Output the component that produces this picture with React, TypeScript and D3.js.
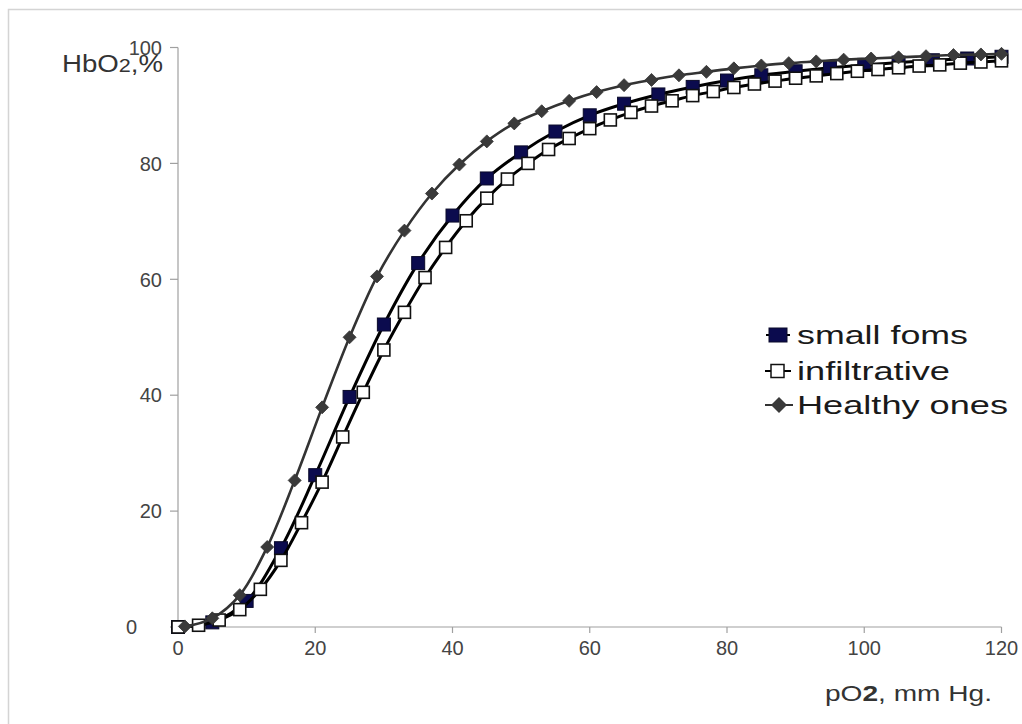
import React from "react";
import * as d3 from "d3";

// ---- data ----
const smallX = [0,5,10,15,20,25,30,35,40,45,50,55,60,65,70,75,80,85,90,95,100,105,110,115,120];
const smallY = [0,0.8,4.5,13.6,26.2,39.7,52.2,62.8,71.0,77.4,81.9,85.5,88.3,90.3,91.9,93.2,94.3,95.2,95.9,96.5,97.0,97.4,97.8,98.1,98.4];

const infX = [0,3,6,9,12,15,18,21,24,27,30,33,36,39,42,45,48,51,54,57,60,63,66,69,72,75,78,81,84,87,90,93,96,99,102,105,108,111,114,117,120];
const infY = [0,0.3,1.2,3.0,6.5,11.5,18.0,25.0,32.8,40.5,47.8,54.3,60.3,65.5,70.1,74.0,77.3,80.0,82.4,84.3,86.0,87.5,88.8,89.9,90.8,91.7,92.4,93.1,93.7,94.2,94.7,95.1,95.5,95.9,96.2,96.5,96.8,97.0,97.3,97.5,97.7];

const healthyX = [1,5,9,13,17,21,25,29,33,37,41,45,49,53,57,61,65,69,73,77,81,85,89,93,97,101,105,109,113,117,120];
const healthyY = [0.1,1.5,5.5,13.8,25.3,37.9,50.0,60.5,68.4,74.8,79.8,83.8,86.9,89.0,90.8,92.3,93.5,94.4,95.2,95.8,96.4,96.9,97.3,97.6,97.9,98.1,98.3,98.5,98.7,98.8,98.9];

const xTicks = [0, 20, 40, 60, 80, 100, 120];
const yTicks = [0, 20, 40, 60, 80, 100];
const legendLabels = ["small foms", "infiltrative", "Healthy ones"];

type Pt = { x: number; y: number };
const zip = (xs: number[], ys: number[]): Pt[] => xs.map((x, i) => ({ x, y: ys[i] }));

export default function App() {
  const W = 1022, H = 724;
  const x = d3.scaleLinear().domain([0, 120]).range([178, 1001.5]);
  const y = d3.scaleLinear().domain([0, 100]).range([627, 47.5]);
  const line = d3
    .line<Pt>()
    .x((d) => x(d.x))
    .y((d) => y(d.y))
    .curve(d3.curveCatmullRom.alpha(0.5));

  const small = zip(smallX, smallY);
  const inf = zip(infX, infY);
  const healthy = zip(healthyX, healthyY);

  const font = "'Liberation Sans', Arial, sans-serif";
  const sq = 13;
  const hs = 12;
  const dm = 6.5;
  const diamond = (cx: number, cy: number, r: number) =>
    `M${cx},${cy - r}L${cx + r},${cy}L${cx},${cy + r}L${cx - r},${cy}Z`;

  return (
    <svg
      width={W}
      height={H}
      style={{ position: "absolute", left: 0, top: 0, background: "#fff" }}
    >
      <rect x={8.5} y={9.5} width={1100} height={800} fill="#fff" stroke="#d4d4d4" strokeWidth={1.5} />

      {/* axes */}
      <line x1={x(0)} x2={x(0)} y1={y(100)} y2={y(0)} stroke="#a0a0a0" strokeWidth={1.2} />
      <line x1={x(0)} x2={x(120)} y1={y(0)} y2={y(0)} stroke="#a0a0a0" strokeWidth={1.2} />
      {yTicks.map((t) => (
        <g key={"y" + t}>
          <line x1={x(0) - 8} x2={x(0)} y1={y(t)} y2={y(t)} stroke="#a0a0a0" strokeWidth={1.2} />
          <text
            x={t === 0 ? 137 : 162}
            y={y(t)}
            dy="0.36em"
            textAnchor="end"
            fontFamily={font}
            fontSize={20}
            fill="#444"
          >
            {t}
          </text>
        </g>
      ))}
      {xTicks.map((t) => (
        <g key={"x" + t}>
          <line x1={x(t)} x2={x(t)} y1={y(0)} y2={y(0) + 6} stroke="#a0a0a0" strokeWidth={1.2} />
          <text
            x={x(t)}
            y={655}
            textAnchor="middle"
            fontFamily={font}
            fontSize={20}
            fill="#444"
          >
            {t}
          </text>
        </g>
      ))}

      {/* axis titles */}
      <text x={62} y={72} fontFamily={font} fontSize={23} fill="#333" textLength={101} lengthAdjust="spacingAndGlyphs">
        HbO<tspan fontSize={18}>2</tspan>,%
      </text>
      <text x={825} y={701} fontFamily={font} fontSize={22} fill="#333" textLength={167} lengthAdjust="spacingAndGlyphs">
        pO<tspan fontWeight="bold">2</tspan>, mm Hg.
      </text>

      {/* small forms */}
      <path d={line(small) || ""} fill="none" stroke="#000" strokeWidth={3} />
      {small.map((d, i) => (
        <rect
          key={"s" + i}
          x={x(d.x) - sq / 2}
          y={y(d.y) - sq / 2}
          width={sq}
          height={sq}
          fill="#0b0b4e"
          stroke="#0a0a2a"
          strokeWidth={1}
        />
      ))}

      {/* infiltrative */}
      <path d={line(inf) || ""} fill="none" stroke="#000" strokeWidth={3} />
      {inf.map((d, i) => (
        <rect
          key={"i" + i}
          x={x(d.x) - hs / 2}
          y={y(d.y) - hs / 2}
          width={hs}
          height={hs}
          fill="#fff"
          stroke="#111"
          strokeWidth={1.6}
        />
      ))}

      {/* healthy */}
      <path d={line(healthy) || ""} fill="none" stroke="#333" strokeWidth={2.6} />
      {healthy.map((d, i) => (
        <path key={"h" + i} d={diamond(x(d.x), y(d.y), dm)} fill="#3a3a3a" stroke="#333" strokeWidth={0.8} />
      ))}

      {/* legend */}
      <g fontFamily={font} fill="#1a1a1a">
        <line x1={766} x2={790} y1={335} y2={335} stroke="#000" strokeWidth={2} />
        <rect x={769} y={328} width={18} height={14} fill="#0b0b4e" stroke="#0a0a2a" />
        <text x={797} y={344} fontSize={26} textLength={171} lengthAdjust="spacingAndGlyphs">
          {legendLabels[0]}
        </text>

        <line x1={765} x2={791} y1={371} y2={371} stroke="#000" strokeWidth={2} />
        <rect x={771} y={364.5} width={13} height={13} fill="#fff" stroke="#111" strokeWidth={1.5} />
        <text x={797} y={380} fontSize={26} textLength={153} lengthAdjust="spacingAndGlyphs">
          {legendLabels[1]}
        </text>

        <line x1={765} x2={793} y1={405} y2={405} stroke="#333" strokeWidth={2} />
        <path d={diamond(779, 405, 8)} fill="#3a3a3a" />
        <text x={797} y={414} fontSize={26} textLength={211} lengthAdjust="spacingAndGlyphs">
          {legendLabels[2]}
        </text>
      </g>
    </svg>
  );
}
